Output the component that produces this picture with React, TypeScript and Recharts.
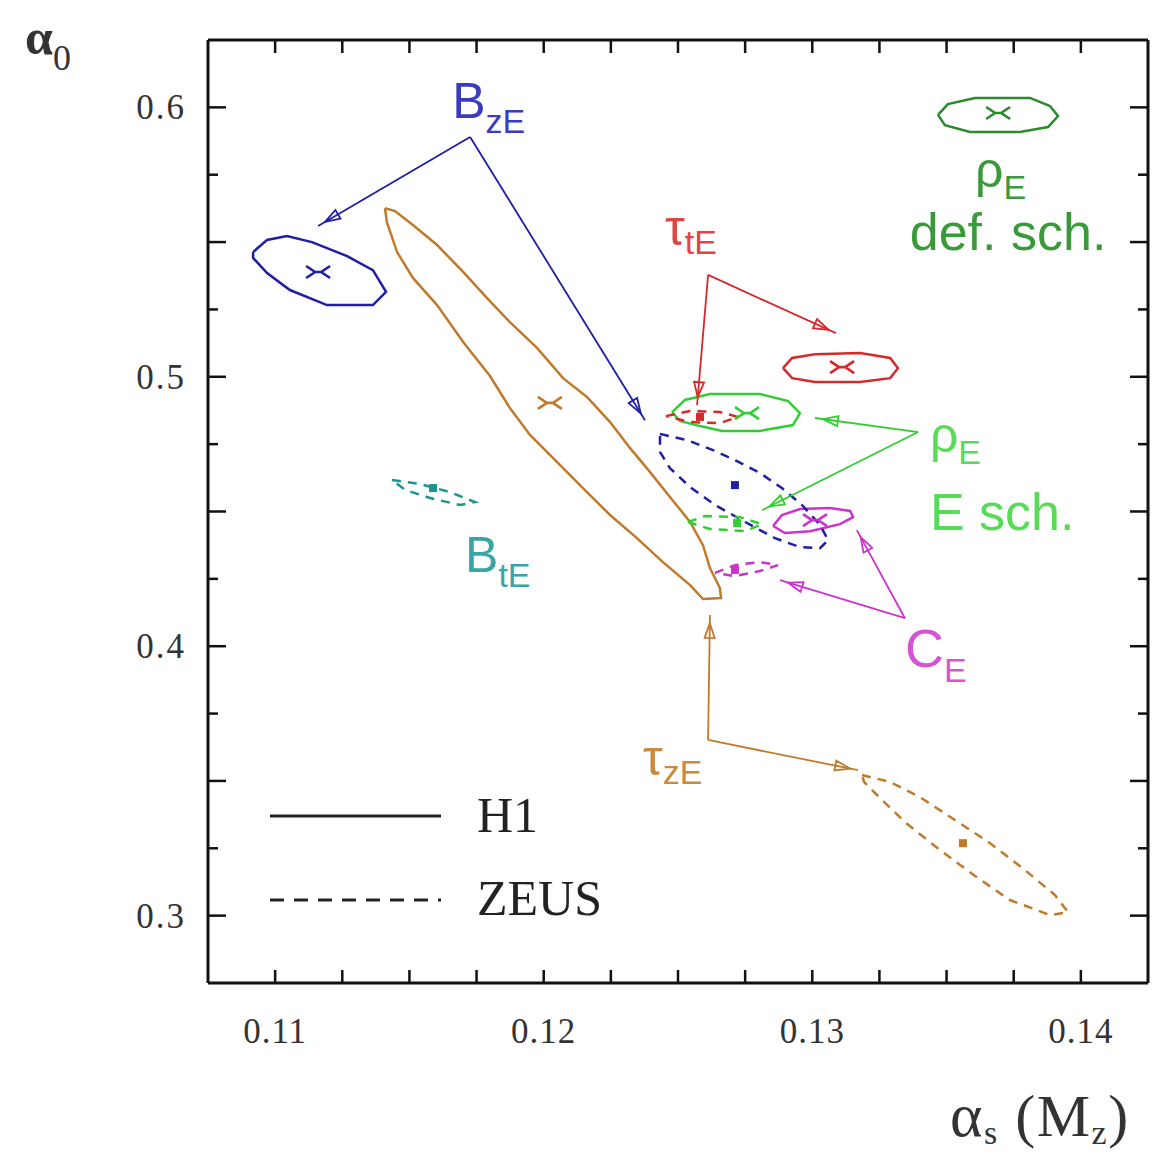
import React from 'react'
import { ComposedChart, Line, Scatter, XAxis, YAxis, Legend } from 'recharts'

type Pt = { x: number; y: number }
const pts = (rows: number[][]): Pt[] => rows.map(([x, y]) => ({ x, y }))

// axis ranges and ticks
const X_DOMAIN = [0.1075, 0.1425]
const Y_DOMAIN = [0.275, 0.625]
const X_TICKS = [0.11, 0.1125, 0.115, 0.1175, 0.12, 0.1225, 0.125, 0.1275, 0.13, 0.1325, 0.135, 0.1375, 0.14]
const Y_TICKS = [0.3, 0.325, 0.35, 0.375, 0.4, 0.425, 0.45, 0.475, 0.5, 0.525, 0.55, 0.575, 0.6]

// H1 contours (solid)
const bzeH1 = pts([
  [0.10918, 0.5463], [0.1097, 0.5508], [0.11044, 0.5522], [0.11137, 0.55], [0.11268, 0.5448],
  [0.11364, 0.5396], [0.11413, 0.5315], [0.11364, 0.5266], [0.11193, 0.5266], [0.11055, 0.5322],
  [0.1097, 0.5385], [0.10918, 0.5441], [0.10918, 0.5463],
])
const tzeH1 = pts([
  [0.11409, 0.5626], [0.11446, 0.5615], [0.11513, 0.5563], [0.11603, 0.5489], [0.117, 0.5389],
  [0.11789, 0.5292], [0.11874, 0.5203], [0.11975, 0.5107], [0.12072, 0.4995], [0.12161, 0.4925],
  [0.12247, 0.4832], [0.12321, 0.4736], [0.12396, 0.4646], [0.1247, 0.4554], [0.12545, 0.4461],
  [0.12593, 0.4375], [0.12619, 0.429], [0.12656, 0.4216], [0.1266, 0.4179], [0.12593, 0.4175],
  [0.12545, 0.4227], [0.12444, 0.4312], [0.12347, 0.4401], [0.12247, 0.4487], [0.12146, 0.4587],
  [0.1205, 0.4683], [0.11949, 0.4784], [0.11874, 0.4884], [0.118, 0.5003], [0.117, 0.5129],
  [0.11603, 0.5266], [0.11513, 0.5367], [0.11454, 0.5463], [0.11416, 0.5574], [0.11409, 0.5626],
])
const tteH1 = pts([
  [0.12891, 0.5032], [0.12925, 0.507], [0.1301, 0.5084], [0.13178, 0.5088], [0.1329, 0.507],
  [0.13319, 0.5032], [0.1329, 0.4995], [0.13178, 0.4981], [0.1301, 0.4981], [0.12925, 0.4995],
  [0.12891, 0.5032],
])
const reschH1 = pts([
  [0.12478, 0.4869], [0.12526, 0.4914], [0.12619, 0.4936], [0.12805, 0.4936], [0.1291, 0.491],
  [0.12954, 0.4865], [0.12928, 0.4821], [0.12805, 0.4799], [0.12664, 0.4799], [0.12582, 0.4817],
  [0.12507, 0.4836], [0.12478, 0.4869],
])
const rdefH1 = pts([
  [0.13468, 0.5972], [0.13505, 0.6012], [0.13606, 0.6035], [0.13811, 0.6035], [0.13885, 0.6005],
  [0.13915, 0.5968], [0.13878, 0.5927], [0.13773, 0.5909], [0.13587, 0.5909], [0.13494, 0.5934],
  [0.13468, 0.5972],
])
const ceH1 = pts([
  [0.12854, 0.4446], [0.12887, 0.4487], [0.12954, 0.4509], [0.13066, 0.4513], [0.13141, 0.4502],
  [0.13152, 0.4479], [0.13103, 0.4453], [0.12992, 0.4427], [0.12898, 0.442], [0.12854, 0.4446],
])

// ZEUS contours (dashed)
const bzeZeus = pts([
  [0.12433, 0.4788], [0.12534, 0.4765], [0.1263, 0.4728], [0.1272, 0.4687], [0.12805, 0.4643],
  [0.12887, 0.4587], [0.12962, 0.4524], [0.13029, 0.445], [0.13059, 0.4394], [0.13029, 0.4364],
  [0.12954, 0.4368], [0.12861, 0.4401], [0.1275, 0.4461], [0.12638, 0.4524], [0.12545, 0.4591],
  [0.1247, 0.4661], [0.12433, 0.4721], [0.12433, 0.4788],
])
const tzeZeus = pts([
  [0.13185, 0.3522], [0.1329, 0.3496], [0.13401, 0.344], [0.13531, 0.3355], [0.13662, 0.3269],
  [0.13792, 0.3169], [0.13904, 0.3076], [0.13952, 0.3013], [0.13885, 0.3002], [0.13736, 0.3058],
  [0.13606, 0.3147], [0.13476, 0.3243], [0.13345, 0.3347], [0.13245, 0.3444], [0.13193, 0.3496],
  [0.13185, 0.3522],
])
const tteZeus = pts([
  [0.12455, 0.4854], [0.12545, 0.4873], [0.12656, 0.4869], [0.12723, 0.4851], [0.12656, 0.4828],
  [0.12545, 0.4832], [0.12455, 0.4854],
])
const reschZeus = pts([
  [0.12537, 0.4461], [0.12601, 0.4483], [0.12731, 0.4479], [0.12813, 0.4453], [0.1275, 0.4427],
  [0.12619, 0.4435], [0.12537, 0.4461],
])
const ceZeus = pts([
  [0.12638, 0.4272], [0.12712, 0.4301], [0.12805, 0.4312], [0.12872, 0.4301], [0.12805, 0.4279],
  [0.12712, 0.426], [0.12638, 0.4272],
])
const bteZeus = pts([
  [0.11435, 0.4617], [0.1154, 0.4602], [0.11651, 0.4572], [0.11744, 0.4535], [0.11688, 0.4524],
  [0.11577, 0.455], [0.11484, 0.458], [0.11435, 0.4617],
])

// best-fit points
const h1Centers = [
  { x: 0.1116, y: 0.5389, set: 'bze' },
  { x: 0.12023, y: 0.4903, set: 'tze' },
  { x: 0.13111, y: 0.5036, set: 'tte' },
  { x: 0.12757, y: 0.4865, set: 'resch' },
  { x: 0.13692, y: 0.5979, set: 'rdef' },
  { x: 0.1301, y: 0.4468, set: 'ce' },
]
const zeusCenters = [
  { x: 0.12712, y: 0.4598, set: 'bze' },
  { x: 0.13561, y: 0.3269, set: 'tze' },
  { x: 0.12582, y: 0.4851, set: 'tte' },
  { x: 0.1272, y: 0.4457, set: 'resch' },
  { x: 0.12712, y: 0.4283, set: 'ce' },
  { x: 0.11588, y: 0.4587, set: 'bte' },
]

// label arrows: [from, to]
const arrows: { set: string; path: Pt[] }[] = [
  { set: 'bze', path: pts([[0.11726, 0.589], [0.1116, 0.556]]) },
  { set: 'bze', path: pts([[0.11726, 0.589], [0.12377, 0.4839]]) },
  { set: 'tte', path: pts([[0.12612, 0.5378], [0.13088, 0.5162]]) },
  { set: 'tte', path: pts([[0.12612, 0.5378], [0.12571, 0.4895]]) },
  { set: 'resch', path: pts([[0.13394, 0.4795], [0.1301, 0.4847]]) },
  { set: 'resch', path: pts([[0.13394, 0.4795], [0.12813, 0.4505]]) },
  { set: 'ce', path: pts([[0.13345, 0.4104], [0.13166, 0.4431]]) },
  { set: 'ce', path: pts([[0.13345, 0.4104], [0.1288, 0.4245]]) },
  { set: 'tze', path: pts([[0.12612, 0.3652], [0.12619, 0.4116]]) },
  { set: 'tze', path: pts([[0.12612, 0.3652], [0.1317, 0.354]]) },
]

// text annotations
const notes = [
  { x: 0.11659, y: 0.596, main: 'B', sub: 'zE', set: 'bze' },
  { x: 0.11707, y: 0.4275, main: 'B', sub: 'tE', set: 'bte' },
  { x: 0.12452, y: 0.5489, main: 'τ', sub: 'tE', set: 'tte' },
  { x: 0.1237, y: 0.3522, main: 'τ', sub: 'zE', set: 'tze' },
  { x: 0.13606, y: 0.5705, main: 'ρ', sub: 'E', set: 'rdef' },
  { x: 0.13729, y: 0.5471, main: 'def. sch.', sub: '', set: 'rdef', center: true },
  { x: 0.13438, y: 0.4721, main: 'ρ', sub: 'E', set: 'resch' },
  { x: 0.13438, y: 0.4431, main: 'E sch.', sub: '', set: 'resch' },
  { x: 0.13345, y: 0.3923, main: 'C', sub: 'E', set: 'ce' },
]

const LINE: Record<string, string> = {
  bze: '#1f1fa3', tze: '#c17a2c', tte: '#d42a2a', rdef: '#2b8a2b',
  resch: '#33cc33', ce: '#cc33cc', bte: '#1a968a',
}
const TEXT: Record<string, string> = {
  bze: '#3b3bc0', tze: '#c98a3e', tte: '#e04545', rdef: '#3a9a3a',
  resch: '#58dc58', ce: '#d455d4', bte: '#3aa5a5',
}

const contours = [
  { set: 'tze', data: tzeH1, zeus: false },
  { set: 'bze', data: bzeH1, zeus: false },
  { set: 'tte', data: tteH1, zeus: false },
  { set: 'resch', data: reschH1, zeus: false },
  { set: 'rdef', data: rdefH1, zeus: false },
  { set: 'ce', data: ceH1, zeus: false },
  { set: 'bze', data: bzeZeus, zeus: true },
  { set: 'tze', data: tzeZeus, zeus: true },
  { set: 'tte', data: tteZeus, zeus: true },
  { set: 'resch', data: reschZeus, zeus: true },
  { set: 'ce', data: ceZeus, zeus: true },
  { set: 'bte', data: bteZeus, zeus: true },
]

const AXIS = '#111'
const SERIF = 'Liberation Serif, Times New Roman, serif'
const SANS = 'Liberation Sans, Arial, sans-serif'

const isMult = (v: number, step: number) => Math.abs(v / step - Math.round(v / step)) < 1e-6

const XTick = (props: any) => {
  const { x, y, payload, side } = props
  const v = payload.value
  const dir = side === 'bottom' ? -1 : 1
  return (
    <g>
      <line x1={x} y1={y} x2={x} y2={y + dir * 13} stroke={AXIS} strokeWidth={2.5} />
      {side === 'bottom' && isMult(v, 0.01) && (
        <text x={x} y={y + 60} textAnchor="middle" fontFamily={SERIF} fontSize={35} letterSpacing={1} fill="#333">
          {v.toFixed(2)}
        </text>
      )}
    </g>
  )
}

const YTick = (props: any) => {
  const { x, y, payload, side } = props
  const v = payload.value
  const len = isMult(v, 0.05) ? 18 : 10
  const dir = side === 'left' ? 1 : -1
  return (
    <g>
      <line x1={x} y1={y} x2={x + dir * len} y2={y} stroke={AXIS} strokeWidth={2.5} />
      {side === 'left' && isMult(v, 0.1) && (
        <text x={x - 22} y={y + 12} textAnchor="end" fontFamily={SERIF} fontSize={35} letterSpacing={2} fill="#333">
          {v.toFixed(1)}
        </text>
      )}
    </g>
  )
}

// open arrow head drawn a little before the end of each label arrow
const ArrowHead = (props: any) => {
  const { cx, cy, index, points, stroke } = props
  if (!points || index !== points.length - 1 || index < 1) return <g key={`d-${index}`} />
  const p0 = points[index - 1]
  const dx = cx - p0.x
  const dy = cy - p0.y
  const len = Math.hypot(dx, dy) || 1
  const ux = dx / len
  const uy = dy / len
  const tx = cx - ux * 8
  const ty = cy - uy * 8
  const bx = tx - ux * 15
  const by = ty - uy * 15
  const px = -uy * 5
  const py = ux * 5
  return (
    <path
      key={`d-${index}`}
      d={`M${tx},${ty} L${bx + px},${by + py} L${bx - px},${by - py} Z`}
      fill="none"
      stroke={stroke}
      strokeWidth={1.8}
    />
  )
}

const H1Marker = (p: any) => {
  const { cx, cy, payload } = p
  return (
    <path
      d={`M${cx - 12},${cy - 6} L${cx - 3},${cy} L${cx - 12},${cy + 6} M${cx + 12},${cy - 6} L${cx + 3},${cy} L${cx + 12},${cy + 6} M${cx - 4},${cy} L${cx + 4},${cy}`}
      stroke={LINE[payload.set]}
      strokeWidth={2.6}
      fill="none"
    />
  )
}

const ZeusMarker = (p: any) => {
  const { cx, cy, payload } = p
  return <rect x={cx - 4} y={cy - 4} width={8} height={8} fill={LINE[payload.set]} />
}

const Note = (p: any) => {
  const { cx, cy, payload } = p
  const big = payload.sub ? (payload.main === 'C' ? 54 : 50) : 52
  return (
    <text
      x={cx}
      y={cy}
      fontFamily={SANS}
      fontSize={big}
      fill={TEXT[payload.set]}
      textAnchor={payload.center ? 'middle' : 'start'}
    >
      {payload.main}
      {payload.sub && (
        <tspan fontSize={34} dy={payload.main === 'τ' ? 9 : payload.main === 'ρ' ? 12 : 15}>
          {payload.sub}
        </tspan>
      )}
    </text>
  )
}

const AxisTitleY = () => (
  <text x={17} y={46} fontFamily={SERIF} fontSize={50} fontWeight="bold" fill="#333">
    α<tspan fontSize={36} fontWeight="normal" dy={16}>0</tspan>
  </text>
)

const AxisTitleX = () => (
  <text x={942} y={1128} fontFamily={SERIF} fontSize={60} letterSpacing={1.5} fill="#333">
    <tspan fontSize={62}>α</tspan>
    <tspan fontSize={34} dy={8}>s</tspan>
    <tspan dy={-8}> (M</tspan>
    <tspan fontSize={34} dy={8}>z</tspan>
    <tspan dy={-8}>)</tspan>
  </text>
)

const LegendBox = () => (
  <svg width={380} height={170}>
    <line x1={8} y1={46} x2={179} y2={46} stroke="#222" strokeWidth={3} />
    <text x={215} y={62} fontFamily={SERIF} fontSize={50} fill="#222">H1</text>
    <line x1={8} y1={130} x2={179} y2={130} stroke="#222" strokeWidth={3} strokeDasharray="14 10" />
    <text x={215} y={145} fontFamily={SERIF} fontSize={50} fill="#222">ZEUS</text>
  </svg>
)

export default function App() {
  return (
    <ComposedChart width={1150} height={1146} margin={{ top: 31, right: 9, bottom: 131, left: 140 }}>
      <XAxis
        type="number"
        dataKey="x"
        domain={X_DOMAIN}
        allowDataOverflow
        ticks={X_TICKS}
        interval={0}
        height={40}
        tickSize={0}
        tickMargin={0}
        tickLine={false}
        tick={<XTick side="bottom" />}
        axisLine={{ stroke: AXIS, strokeWidth: 3 }}
        label={<AxisTitleX />}
      />
      <XAxis
        xAxisId="top"
        orientation="top"
        type="number"
        dataKey="x"
        domain={X_DOMAIN}
        allowDataOverflow
        ticks={X_TICKS}
        interval={0}
        height={1}
        tickSize={0}
        tickMargin={0}
        tickLine={false}
        tick={<XTick side="top" />}
        axisLine={{ stroke: AXIS, strokeWidth: 3 }}
      />
      <YAxis
        type="number"
        dataKey="y"
        domain={Y_DOMAIN}
        allowDataOverflow
        ticks={Y_TICKS}
        interval={0}
        width={60}
        tickSize={0}
        tickMargin={0}
        tickLine={false}
        tick={<YTick side="left" />}
        axisLine={{ stroke: AXIS, strokeWidth: 3 }}
        label={<AxisTitleY />}
      />
      <YAxis
        yAxisId="right"
        orientation="right"
        type="number"
        dataKey="y"
        domain={Y_DOMAIN}
        allowDataOverflow
        ticks={Y_TICKS}
        interval={0}
        width={1}
        tickSize={0}
        tickMargin={0}
        tickLine={false}
        tick={<YTick side="right" />}
        axisLine={{ stroke: AXIS, strokeWidth: 3 }}
      />
      <Legend
        layout="horizontal"
        verticalAlign="middle"
        align="center"
        content={<LegendBox />}
        wrapperStyle={{ position: 'absolute', left: 254, top: 762, width: 380, height: 170 }}
      />
      {contours.map((c, i) => (
        <Line
          key={`c-${i}`}
          data={c.data}
          dataKey="y"
          type="linear"
          stroke={LINE[c.set]}
          strokeWidth={2.5}
          strokeDasharray={c.zeus ? '9 7' : undefined}
          dot={false}
          activeDot={false}
          legendType="none"
          isAnimationActive={false}
        />
      ))}
      {arrows.map((a, i) => (
        <Line
          key={`a-${i}`}
          data={a.path}
          dataKey="y"
          type="linear"
          stroke={LINE[a.set]}
          strokeWidth={1.8}
          dot={ArrowHead}
          activeDot={false}
          legendType="none"
          isAnimationActive={false}
        />
      ))}
      <Scatter data={h1Centers} dataKey="y" shape={H1Marker} legendType="none" isAnimationActive={false} />
      <Scatter data={zeusCenters} dataKey="y" shape={ZeusMarker} legendType="none" isAnimationActive={false} />
      <Scatter data={notes} dataKey="y" shape={Note} legendType="none" isAnimationActive={false} />
    </ComposedChart>
  )
}
